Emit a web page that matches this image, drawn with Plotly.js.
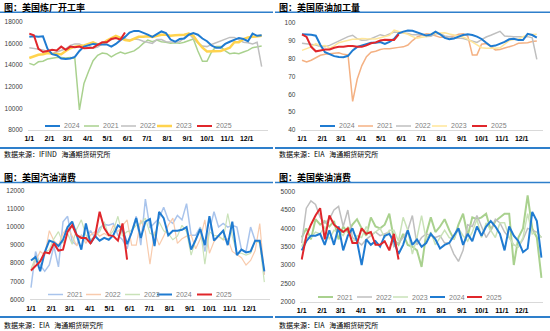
<!DOCTYPE html>
<html><head><meta charset="utf-8">
<script src="https://cdn.plot.ly/plotly-3.0.1.min.js"></script>
<style>html,body{margin:0;padding:0;background:#fff}#chart{width:550px;height:331px}</style>
</head><body><div id="chart"></div><script>
// ---------- shared axis labels ----------
const monthTickDays = [0,31,59,90,120,151,181,212,243,273,304,334];
const monthTickLabels = ['1/1','2/1','3/1','4/1','5/1','6/1','7/1','8/1','9/1','10/1','11/1','12/1'];

// ---------- Panel 1: 美国炼厂开工率 ----------
const p1Title = '图：美国炼厂开工率';
const p1Source = '数据来源：IFIND\u00a0\u00a0\u00a0海通期货研究所';
const p1Names = ['2024','2021','2022','2023','2025'];
const p1_2024 = [16600,16650,16600,16650,15500,15000,14900,14600,14550,14600,14750,15300,15700,15850,15950,15900,15900,15900,15700,15950,16300,16600,17000,17150,17150,17000,16800,16600,16850,17100,16950,16350,16150,16400,16450,16800,16950,16800,16450,16200,15800,15600,15600,15950,16150,16300,16500,16400,16200,16900,16700,16750];
const p1_2021 = [14150,14000,14300,14350,14550,14650,14700,14700,14650,14700,14600,9850,12300,13400,14400,14900,15100,15050,14750,15000,15200,15050,15150,15300,15600,16000,16300,16150,16300,16150,16100,16000,16050,16000,16100,16250,16400,15300,14350,14350,15200,15700,15700,15300,15050,15100,15050,15200,15350,15600,15700,15750];
const p1_2022 = [15600,15550,15450,15400,15250,15050,15200,15350,15500,15800,15950,15950,15750,15800,15550,15650,15950,16100,16350,16550,16550,16450,16300,16400,16350,16200,16100,16000,16350,16350,16150,16100,16100,16150,16550,16900,16450,16050,15750,15700,15900,16050,16200,16400,16550,16550,16300,16100,16050,15950,16100,13850];
const p1_2023 = [14650,14800,14950,15000,15100,15050,15000,15000,15300,15550,15700,15750,15800,15950,16100,15900,15950,16250,16500,16700,16500,16300,16250,16400,16600,16600,16650,16600,16700,16800,16800,16700,16750,16750,16800,16900,16700,16100,15600,15250,15250,15250,15300,15450,15600,16100,16100,16400,16550,16600,16650,16700];
const p1_2025 = [16900,16750,15500,15200,15300,15400,15350,15700,15400,15700,15650,15700,15550,15550,15600,15850,16100,16100,16400,16500,16350,17000];

// ---------- Panel 2: 美国原油加工量 ----------
const p2Title = '图：美国原油加工量';
const p2Source = '数据来源：EIA\u00a0\u00a0\u00a0海通期货研究所';
const p2Names = ['2024','2021','2022','2023','2025'];
const p2_2024 = [93.5,93.5,93.2,92.7,87.5,83.5,82.2,81.3,80.8,80.7,81.5,84.5,86.5,87.3,88.3,88.8,88.8,89.2,88.1,89.3,91,94,95,95.6,95.5,94.5,93.5,92.8,93.3,95,93.5,91.5,90.7,91.2,92.2,93.1,93.5,93.1,92.2,90.9,88.8,86.8,87.2,88.2,89.3,90.7,91,90.3,90.3,93.8,93.1,91.6];
const p2_2021 = [79,78,79,80.5,81.8,82.3,82.5,83,83.2,82.3,82,56,68.5,76,81,83.5,84,85,85.5,85.5,86,86.2,86.5,87.5,90,92,93,93.8,93.5,92.5,91.8,91.8,92,92.5,93.5,93.8,92.5,82,82,88,88.3,86.8,84.8,85,85.8,86.5,87.3,88.5,88.7,88.8,89.5,89.8];
const p2_2022 = [88.5,88.3,88,87.5,86.7,86.6,87.3,88.5,90,91,92.2,93,91,90.2,90.3,91,92,93.3,92.6,93.7,94.8,94.5,94.4,94,93.2,93.3,93.4,92.3,92.4,93.8,94,92.6,92.2,91.3,91.5,91.2,90.4,89.6,89,90.5,92,93,94.2,95.2,92.5,92.2,92.2,92.2,92.2,92.2,91.5,79.5];
const p2_2023 = [84.5,85.5,86.5,88.3,87,87.3,85.8,87,88.8,89.5,90.3,90.7,90.8,91.2,91,90.9,90.9,91.6,92.3,93,95.8,95,94,93.5,92.2,91.3,91.8,92.2,93.8,94,94.1,94.4,93.7,93.1,92.6,92,90.8,89.3,87.5,86,85.7,85.6,85.7,86,87.8,90,90.6,90.8,92.2,93.2,93.4,93.5];
const p2_2025 = [93.5,92,86.5,84,84.5,85,85,86,86.5,86.5,87,87,86.5,86.5,87.3,88.5,89,90,90.5,90.5,90.3,93.5];

// ---------- Panel 3: 美国汽油消费 ----------
const p3Title = '图：美国汽油消费';
const p3Source = '数据来源：EIA\u00a0\u00a0\u00a0海通期货研究所';
const p3Names = ['2021','2022','2023','2024','2025'];
const p3_2021 = [6650,8650,7900,7550,7900,8950,7800,10300,10600,9200,9000,9550,9300,9800,9400,9950,10150,10100,10200,9550,9300,8800,9750,10600,9000,11550,9950,10200,10500,11100,10400,10200,10650,10400,11300,9550,9550,10000,8650,9800,10850,10000,10200,10000,10100,10000,8750,8650,10000,9250,9250,7400];
const p3_2022 = [7550,8100,8650,8450,9800,9250,9000,9650,10000,9500,8950,9550,9100,9550,9750,9500,9650,9500,10100,9750,10100,10400,9000,9000,10400,9750,7950,9750,9000,9500,10100,10500,9100,9350,9500,9550,8800,9350,10400,8550,9200,9500,9300,9350,8650,8450,8300,7900,8150,8700,10200,7350];
const p3_2023 = [7700,8300,8100,8600,8750,9350,9750,9100,9650,9050,9900,10400,9550,9300,9500,9750,10300,9500,9800,10600,9500,9750,9800,10100,10200,10500,9650,9550,10300,9800,9650,9300,9500,10100,9750,8450,9300,9950,7950,9750,9550,9500,9300,10750,9500,8550,8550,8450,8550,9250,9100,6950];
const p3_2024 = [8150,8350,7550,8600,9250,9150,8950,9300,10000,10300,9550,8750,10200,9100,9500,9250,9400,9300,9550,10100,9900,9050,9700,10500,9400,10300,10450,8950,10850,10500,9550,9800,9800,9850,10000,8750,9300,9900,9000,10600,9250,9500,9800,9000,10300,8450,8750,8600,8650,9250,9250,7550];
const p3_2025 = [7600,7850,8100,8600,8550,9100,8700,8750,9750,10100,9550,9400,9400,9100,9500,10850,9950,9550,9500,9250,10200,8200];

// ---------- Panel 4: 美国柴油消费 ----------
const p4Title = '图：美国柴油消费';
const p4Source = '数据来源：EIA\u00a0\u00a0\u00a0海通期货研究所';
const p4Names = ['2021','2022','2023','2024','2025'];
const p4_2021 = [3750,4000,3700,4250,4100,4200,4050,4200,3700,4050,3900,4100,4250,4000,3800,4300,4050,4000,4100,4400,3700,3550,3850,3550,3500,3400,2950,3850,4300,3900,4050,4250,3950,3700,4100,4400,3800,4300,4250,4300,4400,3950,4200,4300,4400,4400,3000,3750,4000,4900,4000,3750,2650];
const p4_2022 = [3600,4550,4750,4650,4300,4150,4250,4500,4600,4050,4500,3750,3650,3550,3700,3800,3900,3800,3850,3900,3500,3600,3750,3950,4350,3550,3750,3850,3800,3750,3800,3600,3600,3300,3100,3400,4100,4050,4350,4050,3750,3950,4250,4150,3900,3750,3550,3500,3700,4000,3950,3900,3750];
const p4_2023 = [3500,3750,3750,3900,3850,4050,3700,3950,3900,3800,4050,3600,3800,3750,4050,3800,3900,4000,3750,3950,3950,3650,4300,3950,3300,3750,4350,3700,3900,3550,3750,3950,3750,3700,4000,3800,3650,3900,4250,3750,4150,3950,3750,4150,4150,3750,3550,3500,3750,4400,3850,3900,3750];
const p4_2024 = [3400,3650,3800,3800,3850,3550,3950,3550,4050,3400,3800,4000,3650,3000,3700,3550,3650,3500,3800,3850,3650,3300,3550,3950,3550,3700,3500,3600,3850,3700,3450,3550,3600,3800,4000,3550,3850,3650,4050,3800,4050,4200,4050,3850,3400,4050,3800,3650,3350,3450,4450,4200,3200];
const p4_2025 = [3150,3800,4100,4350,4550,3700,4350,4100,4000,3900,4000,3600,3600,4000,3850,3900,3550,3550,3650,3400,3850,3150];

// ---------- styling / layout ----------
const W = 550, H = 331;
const PX = p => p / W, PY = p => 1 - p / H;
const BLUE_RULE = '#2E7FCB';
const C = {blue:'#1F7BD1', red:'#E0262B', green:'#A9D18E', lgreen:'#C9E2B8', gray:'#BFBFBF', yellow:'#FFD34E', lyellow:'#FFE699', orange:'#F4B183', lorange:'#F8CBAD', lblue:'#A9C4EC'};

const panels = [
  {title:p1Title, src:p1Source, names:p1Names, data:[p1_2024,p1_2021,p1_2022,p1_2023,p1_2025],
   colors:[C.blue,C.green,C.gray,C.yellow,C.red], widths:[2,1.5,1.5,2.5,2], draw:[1,2,3,0,4],
   d0:29.3, d334:246.7, top:21.7, bot:130, yr:[8000,18000], dt:2000,
   left:0, right:273, titleY:7, tline:12.3, sline:148, srcY:154.5, legY:126, legX:[45,84,121,157,197]},
  {title:p2Title, src:p2Source, names:p2Names, data:[p2_2024,p2_2021,p2_2022,p2_2023,p2_2025],
   colors:[C.blue,C.orange,C.gray,C.lyellow,C.red], widths:[2,1.5,1.5,1.5,2], draw:[1,2,3,0,4],
   d0:302, d334:521.7, top:22.7, bot:130, yr:[40,100], dt:10,
   left:275, right:550, titleY:7, tline:12.3, sline:148, srcY:154.5, legY:126, legX:[320,358,396,432,472]},
  {title:p3Title, src:p3Source, names:p3Names, data:[p3_2021,p3_2022,p3_2023,p3_2024,p3_2025],
   colors:[C.lblue,C.lorange,C.lgreen,C.blue,C.red], widths:[1.5,1.2,1.2,2,2], draw:[0,1,2,3,4],
   d0:31, d334:249.3, top:191, bot:299.3, yr:[6000,12000], dt:1000,
   left:0, right:273, titleY:177.5, tline:182.5, sline:317, srcY:325, legY:294.5, legX:[48,86,125,157,197]},
  {title:p4Title, src:p4Source, names:p4Names, data:[p4_2021,p4_2022,p4_2023,p4_2024,p4_2025],
   colors:[C.green,C.gray,C.lgreen,C.blue,C.red], widths:[2,1.5,1.5,2,2], draw:[0,1,2,3,4],
   d0:301.7, d334:521.7, top:191.7, bot:301.7, yr:[2000,5000], dt:500,
   left:275, right:550, titleY:177.5, tline:182.5, sline:317, srcY:325, legY:297, legX:[318,357,393,430,467]}
];

const traces = [], shapes = [], annotations = [];
const layout = {width:W, height:H, margin:{l:0,r:0,t:0,b:0}, paper_bgcolor:'#fff', plot_bgcolor:'rgba(0,0,0,0)', showlegend:false};
const XR = [-2, 366];
const numFont = 'Liberation Sans, Arial, sans-serif';
const cjkFont = 'Noto Sans CJK SC, sans-serif';

panels.forEach((p, k) => {
  const n = k === 0 ? '' : String(k + 1);
  const s = (p.d334 - p.d0) / 334;
  const xl = p.d0 + XR[0] * s, xr = p.d0 + XR[1] * s;
  layout['xaxis' + n] = {domain:[PX(xl), PX(xr)], range:XR, anchor:'y' + n, tickmode:'array',
    tickvals:monthTickDays, ticktext:monthTickLabels, showgrid:false, zeroline:false,
    showline:true, linecolor:'#D9D9D9', linewidth:1, ticks:'outside', ticklen:2, tickcolor:'rgba(0,0,0,0)',
    tickfont:{family:numFont, size:7, color:'#000', weight:'bold'}, fixedrange:true};
  layout['yaxis' + n] = {domain:[PY(p.bot), PY(p.top)], range:p.yr, anchor:'x' + n, dtick:p.dt, tick0:p.yr[0],
    tickformat:'d', showgrid:false, zeroline:false, showline:false, ticks:'outside', ticklen:3, tickcolor:'rgba(0,0,0,0)',
    tickfont:{family:numFont, size:6.5, color:'#404040'}, fixedrange:true};
  p.draw.forEach(j => {
    const ys = p.data[j];
    traces.push({type:'scatter', mode:'lines', name:p.names[j], x:ys.map((_, i) => i * 7), y:ys,
      xaxis:'x' + n, yaxis:'y' + n, line:{color:p.colors[j], width:p.widths[j]}, hoverinfo:'skip'});
  });
  annotations.push({xref:'paper', yref:'paper', x:PX(p.left + 1.5), y:PY(p.titleY), xanchor:'left', yanchor:'middle',
    text:p.title, showarrow:false, font:{family:cjkFont, size:9, color:'#000', weight:'bold'}});
  annotations.push({xref:'paper', yref:'paper', x:PX(p.left + 1.5), y:PY(p.srcY), xanchor:'left', yanchor:'middle',
    text:p.src, showarrow:false, font:{family:cjkFont, size:7, color:'#000'}});
  [p.tline, p.sline].forEach((yy, q) => shapes.push({type:'line', xref:'paper', yref:'paper',
    x0:PX(p.left), x1:PX(p.right), y0:PY(yy), y1:PY(yy), line:{color:BLUE_RULE, width:q ? 2 : 1.5}}));
  p.names.forEach((nm, j) => {
    const x0 = p.legX[j];
    shapes.push({type:'line', xref:'paper', yref:'paper', x0:PX(x0), x1:PX(x0 + 15), y0:PY(p.legY), y1:PY(p.legY),
      line:{color:p.colors[j], width:Math.max(1.5, p.widths[j])}});
    annotations.push({xref:'paper', yref:'paper', x:PX(x0 + 16.5), y:PY(p.legY), xanchor:'left', yanchor:'middle',
      text:nm, showarrow:false, font:{family:numFont, size:7, color:'#808080'}});
  });
});
layout.shapes = shapes;
layout.annotations = annotations;
Plotly.newPlot('chart', traces, layout, {staticPlot:true, displayModeBar:false});
</script></body></html>
